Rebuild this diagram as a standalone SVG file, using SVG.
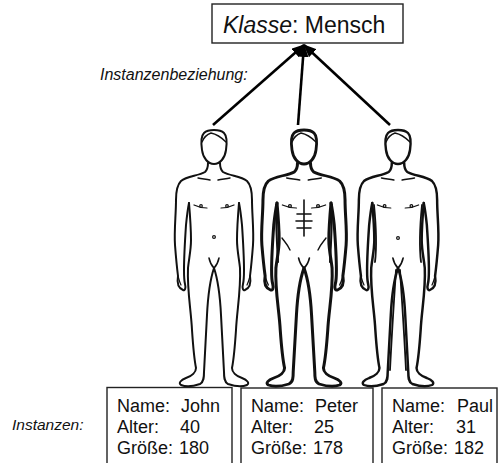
<svg xmlns="http://www.w3.org/2000/svg" xmlns:xlink="http://www.w3.org/1999/xlink" width="498" height="463" viewBox="0 0 498 463">
<style>
  .txt { font-family: "Liberation Sans", Arial, sans-serif; fill: #111; }
  .it { font-style: italic; }
  .box { fill: #fff; stroke: #222; stroke-width: 1.4; }
  .body { fill: none; stroke: #111; stroke-linecap: round; stroke-linejoin: round; }
  .conn { stroke: #000; stroke-width: 2.6; fill: none; }
</style>
<defs>
  <marker id="ah" markerUnits="userSpaceOnUse" markerWidth="13" markerHeight="11" refX="12" refY="5.5" orient="auto">
    <path d="M0,0 L13,5.5 L0,11 Z" fill="#000"/>
  </marker>
  <g id="half">
    <path d="M-6,163 C-6,167 -7,170 -9,172 C-16,176 -27,176 -33,181 C-37,185 -38,192 -38,200 C-38,215 -40,230 -39,245 C-38,258 -37,268 -36,276 C-37,282 -36,288 -31,290 C-29,291 -28,288 -29,284 C-30,280 -30,276 -30,270 C-30,255 -29,240 -28,225 C-27,215 -26,208 -25,203"/>
    <path d="M-25,203 C-24,215 -23,228 -23,240 C-23,250 -25,258 -26,268 C-27,290 -23,310 -22,330 C-21,345 -20,358 -18,368 C-18,372 -22,376 -28,378 C-33,380 -36,383 -33,385 C-28,387 -20,386 -14,384 C-10,382 -10,377 -10,372 C-9,355 -8,335 -7,315 C-6,295 -4,280 0,268"/>
    <path d="M-36,276 C-35,280 -34,283 -33,285" stroke-width="1.2"/>
    <path d="M-16,178 C-12,179 -8,179 -4,180" stroke-width="1.4"/>
    <path d="M-20,205 C-16,207 -12,208 -7,208" stroke-width="1.2"/>
    <circle cx="-13" cy="206" r="1.3" stroke-width="1.2"/>
    <path d="M-5,258 C-4,263 -2,266 0,268" stroke-width="1.5"/>
  </g>
  <g id="head">
    <path d="M0,164 C-6,164 -11,158 -12,150 C-13,143 -13,136 -10,133 C-6,129 6,129 10,133 C13,136 13,143 12,150 C11,158 6,164 0,164 Z"/>
    <path d="M-12,142 C-10,137 -6,134 -3,133 C2,134 7,137 12,142" stroke-width="1.4"/>
  </g>
</defs>

<g id="connectors">
  <line class="conn" x1="213" y1="125" x2="304" y2="45" marker-end="url(#ah)"/>
  <line class="conn" x1="298" y1="125" x2="304" y2="45" marker-end="url(#ah)"/>
  <line class="conn" x1="390" y1="125" x2="304" y2="45" marker-end="url(#ah)"/>
</g>

<g id="klasse">
  <rect class="box" x="212" y="4" width="191" height="39"/>
  <text class="txt" x="223" y="33" font-size="23"><tspan class="it">Klasse</tspan>: Mensch</text>
</g>

<g id="label-beziehung">
  <text class="txt it" x="100" y="80" font-size="16">Instanzenbeziehung:</text>
</g>

<g id="figure-john" class="body" stroke-width="2" transform="translate(214,0)">
  <use xlink:href="#head"/>
  <use xlink:href="#half"/>
  <use xlink:href="#half" transform="scale(-1,1)"/>
  <circle cx="0" cy="237" r="1.4" stroke-width="1.2"/>
</g>

<g id="figure-peter" class="body" stroke-width="2.8" transform="translate(304,0)">
  <use xlink:href="#head"/>
  <g transform="scale(1.08,1)">
    <use xlink:href="#half"/>
    <use xlink:href="#half" transform="scale(-1,1)"/>
  </g>
  <path d="M0,200 L0,236" stroke-width="1.6"/>
  <path d="M-7,214 L7,214 M-8,221 L8,221 M-7,228 L7,228" stroke-width="1.6"/>
  <path d="M-22,238 C-19,242 -16,245 -14,250 M22,238 C19,242 16,245 14,250" stroke-width="1.4"/>
  <path d="M-28,205 C-28,225 -27,245 -26,262 M28,205 C28,225 27,245 26,262" stroke-width="2"/>
</g>

<g id="figure-paul" class="body" stroke-width="2.4" transform="translate(398,0)">
  <use xlink:href="#head"/>
  <g transform="scale(1.03,1)">
    <use xlink:href="#half"/>
    <use xlink:href="#half" transform="scale(-1,1)"/>
  </g>
  <circle cx="0" cy="238" r="1.4" stroke-width="1.2"/>
  <path d="M-24,205 C-22,225 -21,245 -23,262 M24,205 C22,225 21,245 23,262" stroke-width="1.8"/>
  <path d="M-2,270 C-4,300 -6,330 -8,370 M2,270 C4,300 6,330 8,370" stroke-width="1.8"/>
</g>

<g id="label-instanzen">
  <text class="txt it" x="12" y="430" font-size="15.5">Instanzen:</text>
</g>

<g id="instance-john">
  <rect class="box" x="107" y="387.5" width="125" height="85"/>
  <text class="txt" font-size="18">
    <tspan x="117" y="412">Name:</tspan><tspan x="181" y="412">John</tspan>
    <tspan x="117" y="433">Alter:</tspan><tspan x="180" y="433">40</tspan>
    <tspan x="117" y="454">Größe:</tspan><tspan x="179" y="454">180</tspan>
  </text>
</g>

<g id="instance-peter">
  <rect class="box" x="241" y="388" width="132" height="85"/>
  <text class="txt" font-size="18">
    <tspan x="251" y="412">Name:</tspan><tspan x="315" y="412">Peter</tspan>
    <tspan x="251" y="433">Alter:</tspan><tspan x="314" y="433">25</tspan>
    <tspan x="251" y="454">Größe:</tspan><tspan x="313" y="454">178</tspan>
  </text>
</g>

<g id="instance-paul">
  <rect class="box" x="382" y="388" width="115" height="85"/>
  <text class="txt" font-size="18">
    <tspan x="392" y="412">Name:</tspan><tspan x="457" y="412">Paul</tspan>
    <tspan x="392" y="433">Alter:</tspan><tspan x="456" y="433">31</tspan>
    <tspan x="392" y="454">Größe:</tspan><tspan x="454" y="454">182</tspan>
  </text>
</g>
</svg>
